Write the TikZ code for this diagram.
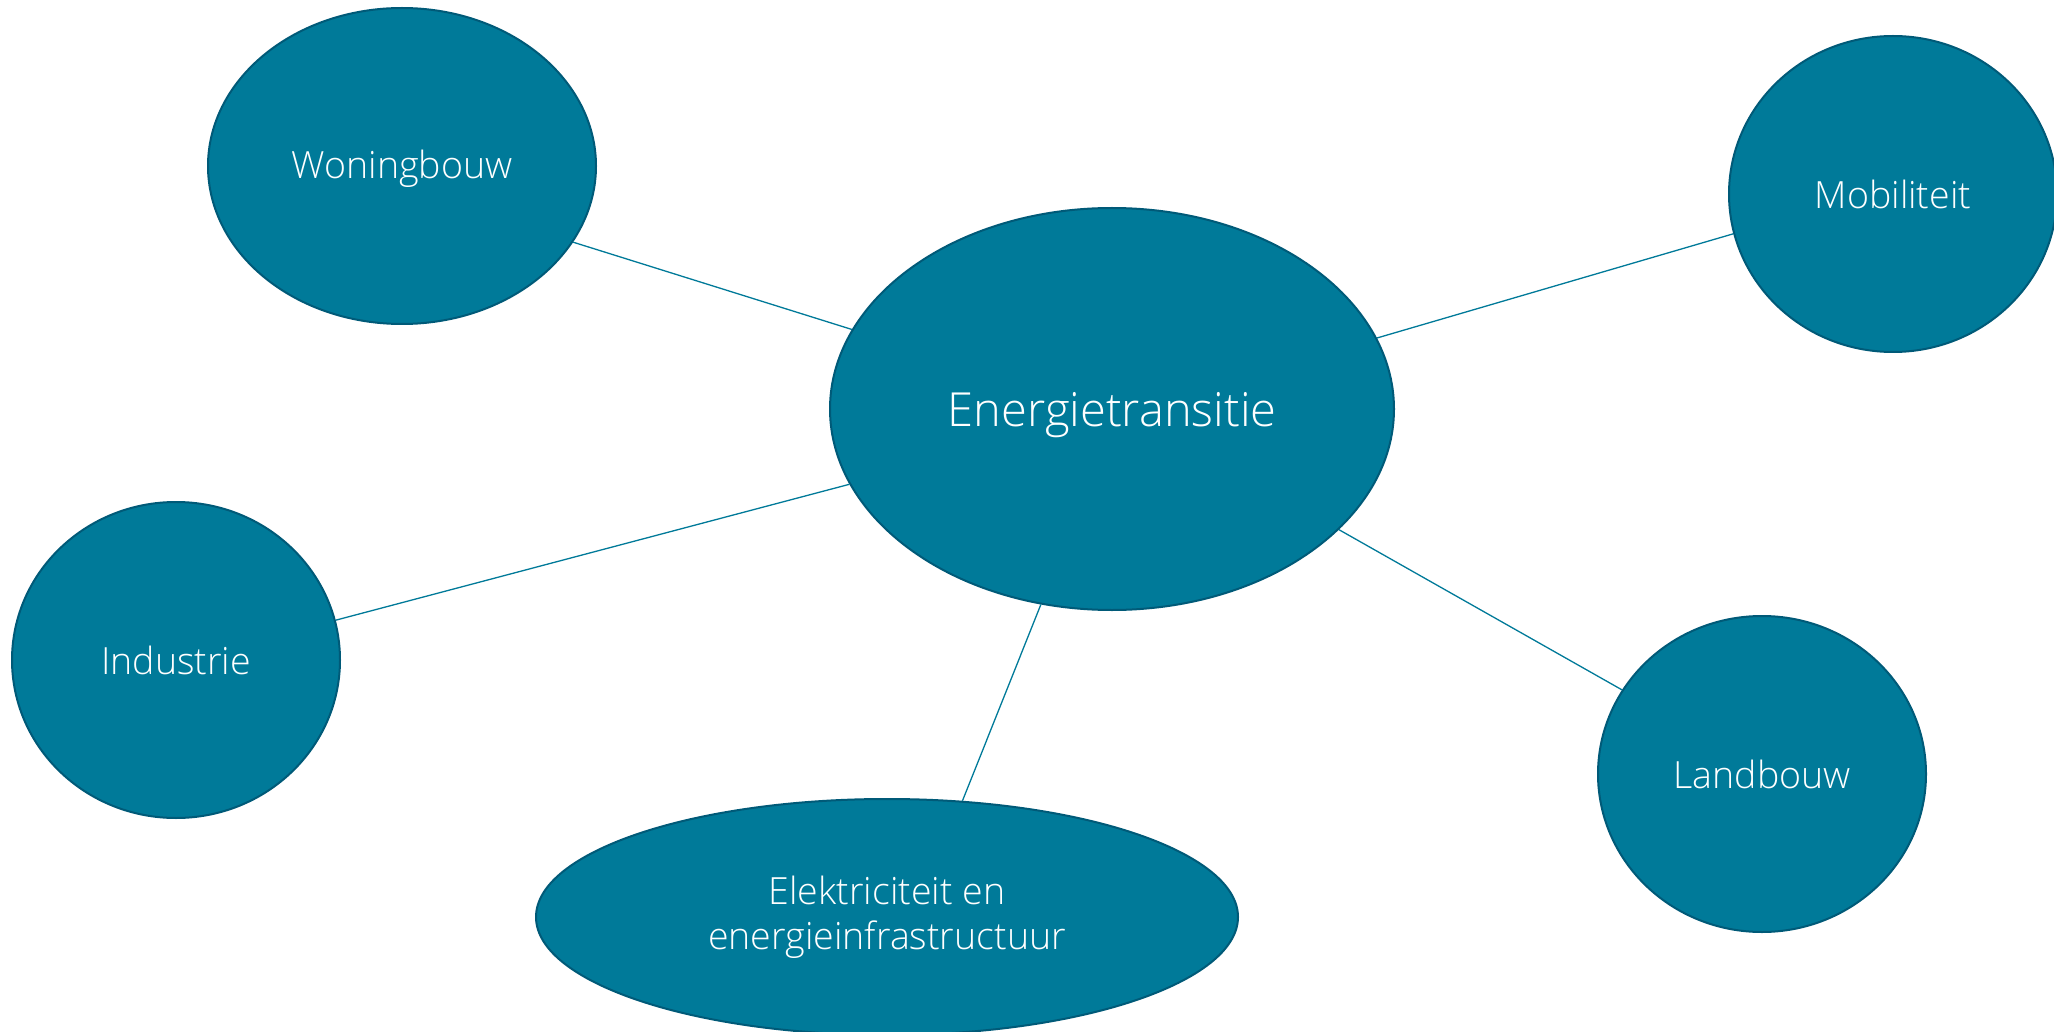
\documentclass[tikz,border=0pt]{standalone}
\usepackage{fontspec}
\setmainfont{Open Sans Light}
\usetikzlibrary{shapes.geometric}
\definecolor{bubble}{RGB}{0,122,153}
\definecolor{rim}{RGB}{0,90,120}
\newcommand{\lowerby}[1]{\raisebox{#1}{\vphantom{Ebdlkh}}}
\tikzset{
  bub/.style={ellipse, fill=bubble, draw=rim, line width=2pt, inner sep=0pt,
    text=white, font=\fontsize{37.5}{45}\selectfont, align=center},
  link/.style={draw=bubble, line width=1.3pt}
}
\begin{document}
\begin{tikzpicture}[x=1pt,y=-1pt]
\useasboundingbox (0,0) rectangle (2054,1032);
\clip (0,0) rectangle (2054,1032);
\fill[white] (0,0) rectangle (2054,1032);
\node[bub, minimum width=564pt, minimum height=402pt, font=\fontsize{47}{56}\selectfont] (E) at (1112,409) {\lowerby{10pt}Energietransitie};
\node[bub, minimum width=388pt, minimum height=316pt] (W) at (402,166) {\lowerby{6pt}Woningbouw};
\node[bub, minimum width=328pt, minimum height=316pt] (M) at (1893,194) {Mobiliteit};
\node[bub, minimum width=328pt, minimum height=316pt] (I) at (176,660) {Industrie};
\node[bub, minimum width=328pt, minimum height=316pt] (L) at (1762,774) {Landbouw};
\node[bub, minimum width=702pt, minimum height=236pt] (K) at (887,917) {Elektriciteit en\\energieinfrastructuur};
\draw[link] (E.163.3) -- (W.-24.1);
\draw[link] (E.15.9) -- (M.-166.7);
\draw[link] (E.-164.8) -- (I.14.5);
\draw[link] (E.-28.75) -- (L.149.7);
\draw[link] (E.-110.2) -- (K.57.9);
\end{tikzpicture}
\end{document}
